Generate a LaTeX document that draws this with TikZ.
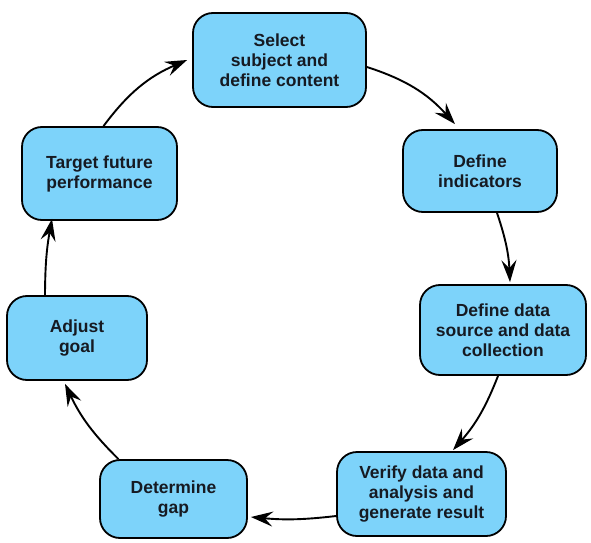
\documentclass[tikz,border=0pt]{standalone}
\usepackage{fontspec}
\setmainfont{Liberation Sans}
\usetikzlibrary{arrows.meta}
\definecolor{boxblue}{RGB}{125,211,250}
\definecolor{txt}{RGB}{22,26,34}
\begin{document}
\begin{tikzpicture}[x=1pt,y=1pt,
  stepbox/.style={draw=black, line width=1.8pt, fill=boxblue, rounded corners=20pt,
    align=center, inner sep=0pt, text=txt,
    font=\fontsize{17.5}{20}\selectfont\bfseries},
  flow/.style={line width=1.9pt, -{Stealth[length=22pt,width=15pt,inset=8pt]}}]
\useasboundingbox (0,0) rectangle (591,542);
\node[stepbox, minimum width=173pt, minimum height=94pt] (sel) at (279.5,482) {Select\\subject and\\define content};
\node[stepbox, minimum width=154pt, minimum height=82pt] (ind) at (480,371) {Define\\indicators};
\node[stepbox, minimum width=166pt, minimum height=90pt] (src) at (503,212) {Define data\\source and data\\collection};
\node[stepbox, minimum width=169pt, minimum height=84pt] (ver) at (421.5,48) {Verify data and\\analysis and\\generate result};
\node[stepbox, minimum width=147pt, minimum height=78pt] (gap) at (173.5,43) {Determine\\gap};
\node[stepbox, minimum width=140pt, minimum height=84pt] (adj) at (77,204) {Adjust\\goal};
\node[stepbox, minimum width=155pt, minimum height=93pt] (tgt) at (99.5,368.5) {Target future\\performance};
\draw[flow] ([yshift=-7pt]sel.east) to[bend left=15] ([xshift=-25pt,yshift=5pt]ind.north);
\draw[flow] ([xshift=17pt]ind.south) to[bend left=8] ([xshift=7pt,yshift=2pt]src.north);
\draw[flow] ([xshift=-5pt]src.south) to[bend left=10] ([xshift=31.5pt,yshift=1pt]ver.north);
\draw[flow] ([yshift=-22pt]ver.west) to[bend left=6] ([xshift=3pt,yshift=-18pt]gap.east);
\draw[flow] ([xshift=-55pt]gap.north) to[bend left=10] ([xshift=-12pt,yshift=-3pt]adj.south);
\draw[flow] ([xshift=-32pt]adj.north) to[bend left=5] ([xshift=-47.5pt,yshift=2pt]tgt.south);
\draw[flow] ([xshift=4pt]tgt.north) to[bend left=15] ([xshift=-5pt]sel.west);
\end{tikzpicture}
\end{document}
